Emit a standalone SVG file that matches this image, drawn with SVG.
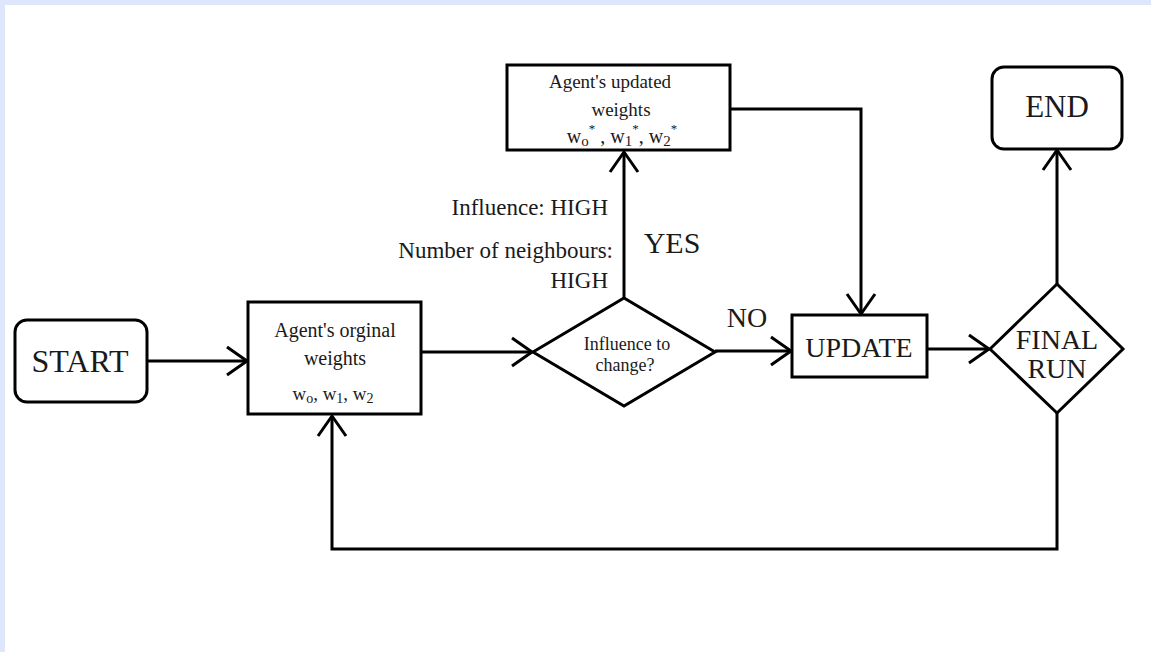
<svg xmlns="http://www.w3.org/2000/svg" width="1151" height="652" viewBox="0 0 1151 652">
<style>
.box{fill:#fff;stroke:#000;stroke-width:3}
.ln{fill:none;stroke:#000;stroke-width:3}
text{font-family:"Liberation Serif","Times New Roman",serif;fill:#1a1a1a}
.c{text-anchor:middle}
.r{text-anchor:end}
</style>
<defs>
<marker id="arr" markerUnits="userSpaceOnUse" markerWidth="30" markerHeight="36" viewBox="-24 -18 30 36" refX="0" refY="0" orient="auto">
<path d="M-20,-14 L0,0 L-20,14" fill="none" stroke="#000" stroke-width="3"/>
</marker>
</defs>
<rect x="0" y="0" width="1151" height="652" fill="#fff"/>
<rect x="0" y="0" width="1151" height="5" fill="#dde6fb"/>
<rect x="0" y="0" width="5" height="652" fill="#dde6fb"/>

<g id="connectors">
<line class="ln" x1="147" y1="361" x2="247" y2="361" marker-end="url(#arr)"/>
<line class="ln" x1="421" y1="352" x2="532" y2="352" marker-end="url(#arr)"/>
<line class="ln" x1="624" y1="298" x2="624" y2="152" marker-end="url(#arr)"/>
<line class="ln" x1="715" y1="351" x2="791" y2="351" marker-end="url(#arr)"/>
<polyline class="ln" points="730,109 861,109 861,314" marker-end="url(#arr)"/>
<line class="ln" x1="927" y1="349" x2="989" y2="349" marker-end="url(#arr)"/>
<line class="ln" x1="1057" y1="284" x2="1057" y2="150" marker-end="url(#arr)"/>
<polyline class="ln" points="1057,413 1057,549 332,549 332,416" marker-end="url(#arr)"/>
<text x="747" y="327" class="c" font-size="28">NO</text>
<text x="672" y="253" class="c" font-size="30">YES</text>
<text x="608" y="215" class="r" font-size="23">Influence: HIGH</text>
<text x="613" y="258" class="r" font-size="23">Number of neighbours:</text>
<text x="608" y="288" class="r" font-size="23">HIGH</text>
</g>

<g id="start">
<rect class="box" x="15" y="320" width="132" height="82" rx="12"/>
<text x="80" y="372" class="c" font-size="32">START</text>
</g>

<g id="original">
<rect class="box" x="248" y="302" width="173" height="112"/>
<text x="335" y="337" class="c" font-size="20">Agent's orginal</text>
<text x="335" y="365" class="c" font-size="20">weights</text>
<text x="333" y="400" class="c" font-size="19">w<tspan font-size="14" dy="3">o</tspan><tspan dy="-3">, w</tspan><tspan font-size="14" dy="3">1</tspan><tspan dy="-3">, w</tspan><tspan font-size="14" dy="3">2</tspan></text>
</g>

<g id="influence">
<polygon class="box" points="533,352 624,298 715,352 624,406"/>
<text x="627" y="350" class="c" font-size="18">Influence to</text>
<text x="625" y="371" class="c" font-size="18">change?</text>
</g>

<g id="updated">
<rect class="box" x="507" y="65" width="223" height="85"/>
<text x="610" y="88" class="c" font-size="19">Agent's updated</text>
<text x="621" y="116" class="c" font-size="19">weights</text>
<text x="622" y="143" class="c" font-size="20">w<tspan font-size="15" dy="3">o</tspan><tspan font-size="13" dy="-13">*</tspan><tspan dy="10"> , w</tspan><tspan font-size="15" dy="3">1</tspan><tspan font-size="13" dy="-13">*</tspan><tspan dy="10">, w</tspan><tspan font-size="15" dy="3">2</tspan><tspan font-size="13" dy="-13">*</tspan></text>
</g>

<g id="update">
<rect class="box" x="792" y="315" width="135" height="62"/>
<text x="859" y="357" class="c" font-size="28">UPDATE</text>
</g>

<g id="finalrun">
<polygon class="box" points="990,349 1057,284 1123,349 1057,413"/>
<text x="1057" y="349" class="c" font-size="28">FINAL</text>
<text x="1057" y="378" class="c" font-size="28">RUN</text>
</g>

<g id="end">
<rect class="box" x="992" y="67" width="130" height="82" rx="12"/>
<text x="1057" y="117" class="c" font-size="31">END</text>
</g>
</svg>
